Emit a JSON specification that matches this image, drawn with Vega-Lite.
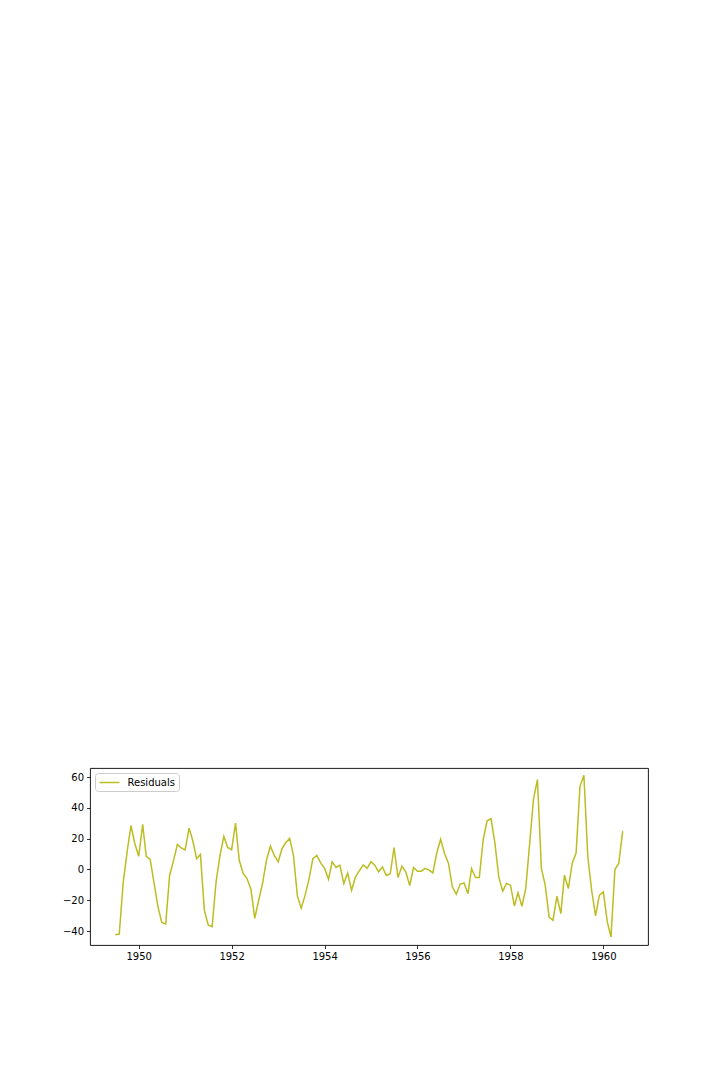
{
  "$schema": "https://vega.github.io/schema/vega-lite/v6.json",
  "autosize": "none",
  "width": 558,
  "height": 177,
  "padding": {"left": 90, "top": 768, "right": 72, "bottom": 135},
  "background": "white",
  "config": {
    "view": {"stroke": "black", "strokeWidth": 0.9},
    "font": "DejaVu Sans"
  },
  "data": {
    "values": [
      {"date": "1949-07-01", "resid": -42.4},
      {"date": "1949-08-01", "resid": -42.0},
      {"date": "1949-09-01", "resid": -8.5},
      {"date": "1949-10-01", "resid": 11.1},
      {"date": "1949-11-01", "resid": 28.6},
      {"date": "1949-12-01", "resid": 16.9},
      {"date": "1950-01-01", "resid": 8.6},
      {"date": "1950-02-01", "resid": 29.3},
      {"date": "1950-03-01", "resid": 8.5},
      {"date": "1950-04-01", "resid": 6.6},
      {"date": "1950-05-01", "resid": -8.5},
      {"date": "1950-06-01", "resid": -24.1},
      {"date": "1950-07-01", "resid": -34.5},
      {"date": "1950-08-01", "resid": -35.4},
      {"date": "1950-09-01", "resid": -3.7},
      {"date": "1950-10-01", "resid": 5.6},
      {"date": "1950-11-01", "resid": 16.3},
      {"date": "1950-12-01", "resid": 14.0},
      {"date": "1951-01-01", "resid": 12.8},
      {"date": "1951-02-01", "resid": 26.9},
      {"date": "1951-03-01", "resid": 19.0},
      {"date": "1951-04-01", "resid": 7.0},
      {"date": "1951-05-01", "resid": 9.8},
      {"date": "1951-06-01", "resid": -26.6},
      {"date": "1951-07-01", "resid": -36.0},
      {"date": "1951-08-01", "resid": -37.2},
      {"date": "1951-09-01", "resid": -8.0},
      {"date": "1951-10-01", "resid": 8.7},
      {"date": "1951-11-01", "resid": 21.5},
      {"date": "1951-12-01", "resid": 14.3},
      {"date": "1952-01-01", "resid": 12.8},
      {"date": "1952-02-01", "resid": 30.2},
      {"date": "1952-03-01", "resid": 6.0},
      {"date": "1952-04-01", "resid": -2.6},
      {"date": "1952-05-01", "resid": -5.9},
      {"date": "1952-06-01", "resid": -12.8},
      {"date": "1952-07-01", "resid": -31.8},
      {"date": "1952-08-01", "resid": -20.0},
      {"date": "1952-09-01", "resid": -8.7},
      {"date": "1952-10-01", "resid": 6.0},
      {"date": "1952-11-01", "resid": 15.2},
      {"date": "1952-12-01", "resid": 9.3},
      {"date": "1953-01-01", "resid": 5.0},
      {"date": "1953-02-01", "resid": 13.7},
      {"date": "1953-03-01", "resid": 17.4},
      {"date": "1953-04-01", "resid": 20.2},
      {"date": "1953-05-01", "resid": 9.3},
      {"date": "1953-06-01", "resid": -17.2},
      {"date": "1953-07-01", "resid": -25.2},
      {"date": "1953-08-01", "resid": -16.7},
      {"date": "1953-09-01", "resid": -5.9},
      {"date": "1953-10-01", "resid": 7.0},
      {"date": "1953-11-01", "resid": 9.1},
      {"date": "1953-12-01", "resid": 4.3},
      {"date": "1954-01-01", "resid": 0.7},
      {"date": "1954-02-01", "resid": -6.3},
      {"date": "1954-03-01", "resid": 5.0},
      {"date": "1954-04-01", "resid": 1.3},
      {"date": "1954-05-01", "resid": 2.8},
      {"date": "1954-06-01", "resid": -9.1},
      {"date": "1954-07-01", "resid": -2.4},
      {"date": "1954-08-01", "resid": -13.5},
      {"date": "1954-09-01", "resid": -4.8},
      {"date": "1954-10-01", "resid": -0.9},
      {"date": "1954-11-01", "resid": 3.0},
      {"date": "1954-12-01", "resid": 0.7},
      {"date": "1955-01-01", "resid": 5.0},
      {"date": "1955-02-01", "resid": 2.6},
      {"date": "1955-03-01", "resid": -1.5},
      {"date": "1955-04-01", "resid": 1.7},
      {"date": "1955-05-01", "resid": -3.9},
      {"date": "1955-06-01", "resid": -2.8},
      {"date": "1955-07-01", "resid": 14.3},
      {"date": "1955-08-01", "resid": -5.2},
      {"date": "1955-09-01", "resid": 2.2},
      {"date": "1955-10-01", "resid": -1.5},
      {"date": "1955-11-01", "resid": -10.4},
      {"date": "1955-12-01", "resid": 1.3},
      {"date": "1956-01-01", "resid": -1.1},
      {"date": "1956-02-01", "resid": -1.1},
      {"date": "1956-03-01", "resid": 0.7},
      {"date": "1956-04-01", "resid": -0.4},
      {"date": "1956-05-01", "resid": -2.2},
      {"date": "1956-06-01", "resid": 10.9},
      {"date": "1956-07-01", "resid": 19.6},
      {"date": "1956-08-01", "resid": 10.4},
      {"date": "1956-09-01", "resid": 3.9},
      {"date": "1956-10-01", "resid": -11.3},
      {"date": "1956-11-01", "resid": -16.1},
      {"date": "1956-12-01", "resid": -9.6},
      {"date": "1957-01-01", "resid": -8.7},
      {"date": "1957-02-01", "resid": -15.7},
      {"date": "1957-03-01", "resid": 0.7},
      {"date": "1957-04-01", "resid": -5.2},
      {"date": "1957-05-01", "resid": -5.2},
      {"date": "1957-06-01", "resid": 19.6},
      {"date": "1957-07-01", "resid": 31.7},
      {"date": "1957-08-01", "resid": 33.0},
      {"date": "1957-09-01", "resid": 17.0},
      {"date": "1957-10-01", "resid": -4.8},
      {"date": "1957-11-01", "resid": -14.1},
      {"date": "1957-12-01", "resid": -9.1},
      {"date": "1958-01-01", "resid": -10.2},
      {"date": "1958-02-01", "resid": -23.7},
      {"date": "1958-03-01", "resid": -15.2},
      {"date": "1958-04-01", "resid": -23.9},
      {"date": "1958-05-01", "resid": -12.4},
      {"date": "1958-06-01", "resid": 17.0},
      {"date": "1958-07-01", "resid": 45.7},
      {"date": "1958-08-01", "resid": 58.5},
      {"date": "1958-09-01", "resid": 0.7},
      {"date": "1958-10-01", "resid": -10.2},
      {"date": "1958-11-01", "resid": -30.9},
      {"date": "1958-12-01", "resid": -33.0},
      {"date": "1959-01-01", "resid": -17.4},
      {"date": "1959-02-01", "resid": -28.7},
      {"date": "1959-03-01", "resid": -3.7},
      {"date": "1959-04-01", "resid": -12.4},
      {"date": "1959-05-01", "resid": 3.9},
      {"date": "1959-06-01", "resid": 10.9},
      {"date": "1959-07-01", "resid": 53.9},
      {"date": "1959-08-01", "resid": 61.3},
      {"date": "1959-09-01", "resid": 8.3},
      {"date": "1959-10-01", "resid": -13.5},
      {"date": "1959-11-01", "resid": -30.2},
      {"date": "1959-12-01", "resid": -16.7},
      {"date": "1960-01-01", "resid": -14.6},
      {"date": "1960-02-01", "resid": -34.1},
      {"date": "1960-03-01", "resid": -43.9},
      {"date": "1960-04-01", "resid": 0.0},
      {"date": "1960-05-01", "resid": 3.9},
      {"date": "1960-06-01", "resid": 25.0}
    ]
  },
  "mark": {"type": "line", "strokeWidth": 1.5, "clip": true},
  "encoding": {
    "x": {
      "field": "date",
      "type": "temporal",
      "scale": {
        "type": "utc",
        "domain": [
          {"year": 1948, "month": 12, "date": 14, "utc": true},
          {"year": 1960, "month": 12, "date": 17, "utc": true}
        ],
        "nice": false
      },
      "axis": {
        "title": null,
        "grid": false,
        "domain": false,
        "values": [
          {"year": 1950, "month": 1, "date": 1, "utc": true},
          {"year": 1952, "month": 1, "date": 1, "utc": true},
          {"year": 1954, "month": 1, "date": 1, "utc": true},
          {"year": 1956, "month": 1, "date": 1, "utc": true},
          {"year": 1958, "month": 1, "date": 1, "utc": true},
          {"year": 1960, "month": 1, "date": 1, "utc": true}
        ],
        "format": "%Y",
        "formatType": "utc",
        "ticks": true,
        "tickColor": "black",
        "tickSize": 3.5,
        "tickWidth": 0.8,
        "labelColor": "black",
        "labelFont": "DejaVu Sans",
        "labelFontSize": 10,
        "labelPadding": 3,
        "labelFlush": false
      }
    },
    "y": {
      "field": "resid",
      "type": "quantitative",
      "scale": {"domain": [-49.1, 66.0], "nice": false, "zero": false},
      "axis": {
        "title": null,
        "grid": false,
        "domain": false,
        "values": [-40, -20, 0, 20, 40, 60],
        "tickColor": "black",
        "tickSize": 3.5,
        "tickWidth": 0.8,
        "labelColor": "black",
        "labelFont": "DejaVu Sans",
        "labelFontSize": 10,
        "labelPadding": 3,
        "labelFlush": false
      }
    },
    "color": {
      "datum": "Residuals",
      "type": "nominal",
      "scale": {"range": ["#bcbd22"]},
      "legend": {
        "title": null,
        "orient": "top-left",
        "offset": 5,
        "padding": 3.5,
        "strokeColor": "#cccccc",
        "fillColor": "white",
        "cornerRadius": 3,
        "symbolType": "M-2,0L2,0",
        "symbolSize": 100,
        "symbolOffset": 5,
        "symbolStrokeWidth": 1.5,
        "labelFont": "DejaVu Sans",
        "labelFontSize": 10,
        "labelColor": "black",
        "labelOffset": 12
      }
    }
  }
}
